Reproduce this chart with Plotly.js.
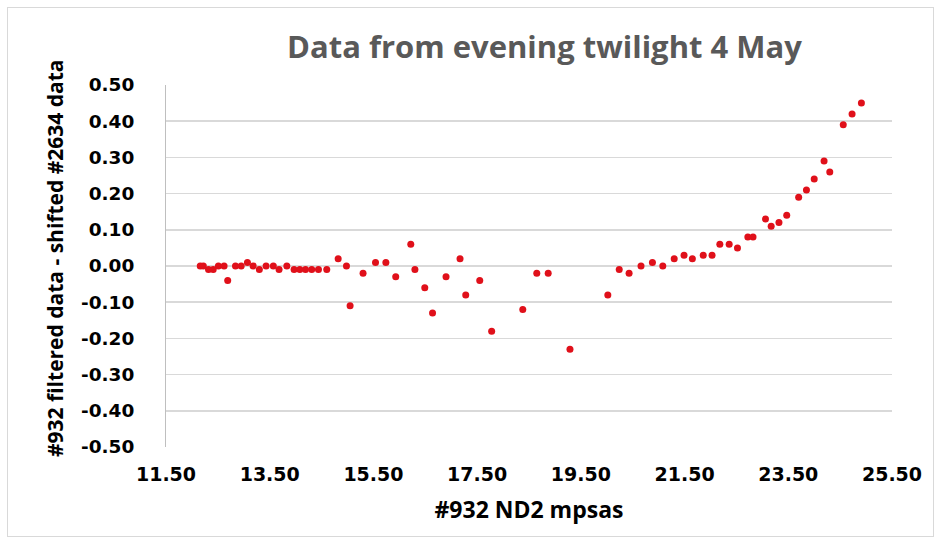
<!DOCTYPE html>
<html>
<head>
<meta charset="utf-8">
<script src="https://cdn.plot.ly/plotly-3.0.1.min.js"></script>
<style>
  html, body { margin: 0; padding: 0; background: #ffffff; }
  #wrap { position: relative; width: 941px; height: 544px; overflow: hidden; }
  #frame { position: absolute; left: 7px; top: 7px; width: 927px; height: 530px;
           border: 1px solid #d9d9d9; box-sizing: border-box; pointer-events: none; }
  #chart { position: absolute; left: 0; top: 0; width: 941px; height: 544px; }
</style>
</head>
<body>
<div id="wrap">
  <div id="chart"></div>
  <div id="frame"></div>
</div>
<script>
// #932 ND2 sky brightness (mpsas) against the filtered-minus-shifted #2634 difference
const mpsas = [
  12.16, 12.22, 12.32, 12.41, 12.51, 12.62, 12.69, 12.84, 12.95, 13.07,
  13.18, 13.30, 13.43, 13.57, 13.68, 13.83, 13.97, 14.08, 14.19, 14.31,
  14.44, 14.60, 14.82, 14.98, 15.05, 15.30, 15.54, 15.74, 15.93, 16.22,
  16.30, 16.49, 16.64, 16.90, 17.17, 17.28, 17.55, 17.78, 18.38, 18.65,
  18.87, 19.29, 20.02, 20.24, 20.43, 20.66, 20.88, 21.08, 21.30, 21.49,
  21.65, 21.86, 22.03, 22.18, 22.36, 22.52, 22.72, 22.82, 23.06, 23.17,
  23.32, 23.47, 23.70, 23.85, 24.00, 24.19, 24.30, 24.56, 24.73, 24.91
];
const difference = [
   0.00,  0.00, -0.01, -0.01,  0.00,  0.00, -0.04,  0.00,  0.00,  0.01,
   0.00, -0.01,  0.00,  0.00, -0.01,  0.00, -0.01, -0.01, -0.01, -0.01,
  -0.01, -0.01,  0.02,  0.00, -0.11, -0.02,  0.01,  0.01, -0.03,  0.06,
  -0.01, -0.06, -0.13, -0.03,  0.02, -0.08, -0.04, -0.18, -0.12, -0.02,
  -0.02, -0.23, -0.08, -0.01, -0.02,  0.00,  0.01,  0.00,  0.02,  0.03,
   0.02,  0.03,  0.03,  0.06,  0.06,  0.05,  0.08,  0.08,  0.13,  0.11,
   0.12,  0.14,  0.19,  0.21,  0.24,  0.29,  0.26,  0.39,  0.42,  0.45
];

// axis ticks and their printed labels
const xTickVals = [11.5, 13.5, 15.5, 17.5, 19.5, 21.5, 23.5, 25.5];
const xTickText = ['11.50', '13.50', '15.50', '17.50', '19.50', '21.50', '23.50', '25.50'];
const yTickVals = [-0.5, -0.4, -0.3, -0.2, -0.1, 0, 0.1, 0.2, 0.3, 0.4, 0.5];
const yTickText = ['-0.50', '-0.40', '-0.30', '-0.20', '-0.10', '0.00', '0.10', '0.20', '0.30', '0.40', '0.50'];

const chartTitle = 'Data from evening twilight 4 May';
const xTitle = '#932 ND2 mpsas';
const yTitle = '#932 filtered data - shifted #2634 data';

const TITLE_FONT = '"Open Sans", sans-serif';
const TICK_FONT = '"DejaVu Sans", Verdana, sans-serif';

const trace = {
  type: 'scatter',
  mode: 'markers',
  x: mpsas,
  y: difference,
  marker: { color: '#e0101a', size: 7, line: { width: 0 } },
  hoverinfo: 'x+y'
};

const layout = {
  width: 941,
  height: 544,
  margin: { l: 166, r: 49, t: 85, b: 97 },
  paper_bgcolor: '#ffffff',
  plot_bgcolor: '#ffffff',
  showlegend: false,
  font: { family: TITLE_FONT, color: '#000000' },
  title: {
    text: chartTitle,
    font: { family: TITLE_FONT, size: 31, color: '#595959', weight: 'bold' },
    x: 0.5786, xanchor: 'center',
    y: 0.913, yanchor: 'middle'
  },
  xaxis: {
    range: [11.5, 25.5],
    tickmode: 'array',
    tickvals: xTickVals,
    ticktext: xTickText,
    showgrid: false,
    zeroline: false,
    showline: false,
    ticks: '',
    ticklabelstandoff: 14,
    tickfont: { family: TICK_FONT, size: 19, color: '#000000', weight: 'bold' },
    title: { text: xTitle, font: { family: TITLE_FONT, size: 23, color: '#000000', weight: 'bold' }, standoff: 17 },
    automargin: false,
    fixedrange: true
  },
  yaxis: {
    range: [-0.5, 0.5],
    tickmode: 'array',
    tickvals: yTickVals,
    ticktext: yTickText,
    showgrid: true,
    gridcolor: '#d9d9d9',
    gridwidth: 1.5,
    zeroline: false,
    showline: true,
    linecolor: '#bfbfbf',
    linewidth: 1,
    ticks: '',
    ticklabelstandoff: 27,
    tickfont: { family: TICK_FONT, size: 18.5, color: '#000000', weight: 'bold' },
    automargin: false,
    fixedrange: true
  },
  // vertical axis caption, placed a little above the plot's mid-height
  annotations: [{
    text: yTitle,
    xref: 'paper', yref: 'paper',
    x: -0.153, y: 0.522,
    xanchor: 'center', yanchor: 'middle',
    textangle: -90,
    showarrow: false,
    font: { family: TITLE_FONT, size: 21, color: '#000000', weight: 'bold' }
  }]
};

Plotly.newPlot('chart', [trace], layout, { displayModeBar: false, staticPlot: true });
</script>
</body>
</html>
